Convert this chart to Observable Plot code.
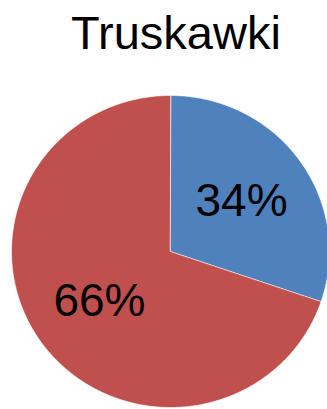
<!DOCTYPE html>
<html><head><meta charset="utf-8">
<script src="https://cdn.jsdelivr.net/npm/d3@7"></script>
<script src="https://cdn.jsdelivr.net/npm/@observablehq/plot@0.6"></script>
<style>html,body{margin:0;padding:0;background:#fff;overflow:hidden}</style>
</head><body><div id="chart"></div>
<script>
const title = "Truskawki";
const categories = ["Kategoria 1", "Kategoria 2"];
const shares = [30.2, 69.8];      // slice sizes as drawn in the picture
const labels = ["34%", "66%"];    // data labels as printed
const colors = ["#4F81BD", "#C0504D"];

const arcs = d3.pie().sort(null).value(d => d)(shares);
const outline = [];
arcs.forEach((a, i) => {
  outline.push({cat: categories[i], x: 0, y: 0});
  const n = Math.max(2, Math.ceil((a.endAngle - a.startAngle) / (Math.PI / 180)));
  for (let k = 0; k <= n; k++) {
    const t = a.startAngle + (a.endAngle - a.startAngle) * k / n;
    outline.push({cat: categories[i], x: Math.sin(t), y: Math.cos(t)});
  }
});
const labelPts = arcs.map((a, i) => {
  const m = (a.startAngle + a.endAngle) / 2;
  return {label: labels[i], x: 0.55 * Math.sin(m), y: 0.55 * Math.cos(m)};
});

const chart = Plot.plot({
  width: 327, height: 409, margin: 0,
  x: {domain: [-1, 1], range: [11, 329], axis: null},
  y: {domain: [-1, 1], range: [407, 95], axis: null},
  color: {domain: categories, range: colors},
  style: {fontFamily: "'Liberation Sans', Arial, sans-serif", background: "white"},
  marks: [
    Plot.line(outline, {x: "x", y: "y", z: "cat", fill: "cat", stroke: "white", strokeWidth: 0.6, curve: "linear-closed"}),
    Plot.text(labelPts, {x: "x", y: "y", text: "label", fontSize: 46, fill: "black"}),
    Plot.text([title], {frameAnchor: "top", dx: 12, dy: 48, lineAnchor: "bottom", fontSize: 47, fill: "black"})
  ]
});
document.getElementById("chart").appendChild(chart);
</script>
</body></html>
